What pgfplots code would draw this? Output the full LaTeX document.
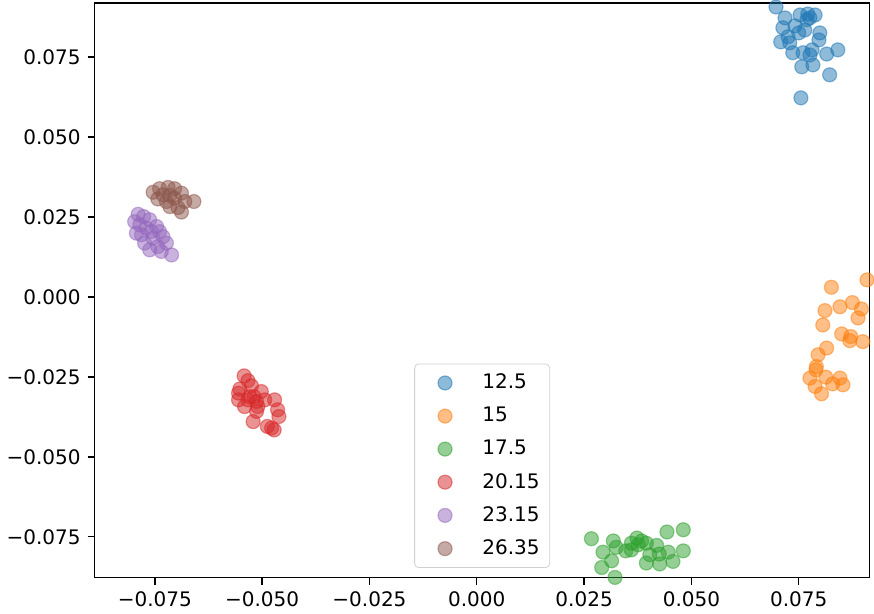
\documentclass[border=0pt]{standalone}
\usepackage{pgfplots}
\pgfplotsset{compat=1.18}
\usepackage{fontspec}
\setmainfont{DejaVu Sans}
\definecolor{c0}{HTML}{1F77B4}
\definecolor{c1}{HTML}{FF7F0E}
\definecolor{c2}{HTML}{2CA02C}
\definecolor{c3}{HTML}{D62728}
\definecolor{c4}{HTML}{9467BD}
\definecolor{c5}{HTML}{8C564B}
\begin{document}
\fontsize{10pt}{12pt}\selectfont
\begin{tikzpicture}
\begin{axis}[
  scale only axis,
  width=387.5pt, height=287.5pt,
  xmin=-0.0890, xmax=0.0915,
  ymin=-0.0878, ymax=0.0919,
  axis line style={line width=0.7pt},
  tick align=outside,
  major tick length=3.5pt,
  tick style={black, line width=0.7pt},
  xtick={-0.075,-0.05,-0.025,0,0.025,0.05,0.075},
  xticklabels={−0.075,−0.050,−0.025,0.000,0.025,0.050,0.075},
  ytick={-0.075,-0.05,-0.025,0,0.025,0.05,0.075},
  yticklabels={−0.075,−0.050,−0.025,0.000,0.025,0.050,0.075},
  xtick pos=bottom, ytick pos=left,
  scaled ticks=false,
  legend cell align=left,
  legend image code/.code={\path (-12pt,0pt) (16.5pt,0pt); \draw[#1, only marks] plot coordinates {(0pt,0pt)};},
  legend style={at={(0.5,0.017)}, anchor=south, draw=black!18, rounded corners=2pt,
    fill=white, fill opacity=0.8, text opacity=1, inner xsep=3pt, inner ysep=3pt,
    row sep=3.7pt, font=\fontsize{10pt}{12pt}\selectfont},
  every axis plot/.append style={only marks, mark=*, mark size=3.5pt},
]
\addplot[mark options={fill=c0, draw=c0, opacity=0.5, line width=0.6pt}] coordinates {
(0.0697,0.0906)(0.0718,0.0872)(0.0753,0.0881)(0.0771,0.0884)(0.0788,0.0881)
(0.0776,0.0872)(0.0769,0.0866)(0.0713,0.0841)(0.0741,0.0847)(0.0764,0.0834)
(0.0750,0.0825)(0.0799,0.0825)(0.0797,0.0803)(0.0725,0.0813)(0.0708,0.0797)
(0.0729,0.0794)(0.0736,0.0763)(0.0760,0.0763)(0.0781,0.0772)(0.0776,0.0756)
(0.0815,0.0759)(0.0841,0.0772)(0.0757,0.0719)(0.0783,0.0725)(0.0822,0.0694)
(0.0755,0.0622)};
\addlegendentry{12.5}
\addplot[mark options={fill=c1, draw=c1, opacity=0.5, line width=0.6pt}] coordinates {
(0.0826,0.0030)(0.0909,0.0053)(0.0811,-0.0043)(0.0846,-0.0031)(0.0875,-0.0018)
(0.0896,-0.0038)(0.0888,-0.0066)(0.0806,-0.0088)(0.0850,-0.0116)(0.0871,-0.0124)
(0.0869,-0.0137)(0.0899,-0.0140)(0.0815,-0.0160)(0.0795,-0.0181)(0.0791,-0.0218)
(0.0790,-0.0228)(0.0776,-0.0254)(0.0813,-0.0251)(0.0846,-0.0254)(0.0829,-0.0272)
(0.0853,-0.0275)(0.0788,-0.0280)(0.0803,-0.0303)};
\addlegendentry{15}
\addplot[mark options={fill=c2, draw=c2, opacity=0.5, line width=0.6pt}] coordinates {
(0.0267,-0.0756)(0.0318,-0.0763)(0.0294,-0.0798)(0.0325,-0.0783)(0.0347,-0.0794)
(0.0360,-0.0770)(0.0373,-0.0754)(0.0376,-0.0775)(0.0395,-0.0770)(0.0360,-0.0791)
(0.0419,-0.0777)(0.0443,-0.0735)(0.0481,-0.0728)(0.0403,-0.0806)(0.0425,-0.0804)
(0.0446,-0.0798)(0.0481,-0.0794)(0.0457,-0.0827)(0.0426,-0.0835)(0.0395,-0.0832)
(0.0314,-0.0825)(0.0291,-0.0846)(0.0322,-0.0877)(0.0384,-0.0763)};
\addlegendentry{17.5}
\addplot[mark options={fill=c3, draw=c3, opacity=0.5, line width=0.6pt}] coordinates {
(-0.0542,-0.0247)(-0.0533,-0.0262)(-0.0552,-0.0288)(-0.0555,-0.0301)(-0.0555,-0.0322)
(-0.0525,-0.0278)(-0.0502,-0.0296)(-0.0519,-0.0312)(-0.0494,-0.0322)(-0.0533,-0.0322)
(-0.0541,-0.0343)(-0.0510,-0.0343)(-0.0471,-0.0322)(-0.0464,-0.0353)(-0.0461,-0.0374)
(-0.0513,-0.0358)(-0.0521,-0.0390)(-0.0488,-0.0405)(-0.0472,-0.0416)(-0.0478,-0.0410)
(-0.0529,-0.0312)(-0.0513,-0.0327)};
\addlegendentry{20.15}
\addplot[mark options={fill=c4, draw=c4, opacity=0.5, line width=0.6pt}] coordinates {
(-0.0789,0.0258)(-0.0776,0.0251)(-0.0762,0.0241)(-0.0797,0.0235)(-0.0785,0.0225)
(-0.0746,0.0220)(-0.0770,0.0215)(-0.0758,0.0204)(-0.0739,0.0204)(-0.0793,0.0199)
(-0.0731,0.0188)(-0.0754,0.0183)(-0.0723,0.0168)(-0.0774,0.0168)(-0.0743,0.0157)
(-0.0762,0.0147)(-0.0735,0.0142)(-0.0711,0.0131)(-0.0781,0.0194)};
\addlegendentry{23.15}
\addplot[mark options={fill=c5, draw=c5, opacity=0.5, line width=0.6pt}] coordinates {
(-0.0754,0.0327)(-0.0739,0.0338)(-0.0719,0.0342)(-0.0704,0.0338)(-0.0688,0.0324)
(-0.0731,0.0319)(-0.0715,0.0317)(-0.0704,0.0308)(-0.0680,0.0298)(-0.0659,0.0298)
(-0.0723,0.0298)(-0.0696,0.0279)(-0.0715,0.0282)(-0.0743,0.0306)(-0.0688,0.0265)};
\addlegendentry{26.35}
\end{axis}
\end{tikzpicture}
\end{document}
